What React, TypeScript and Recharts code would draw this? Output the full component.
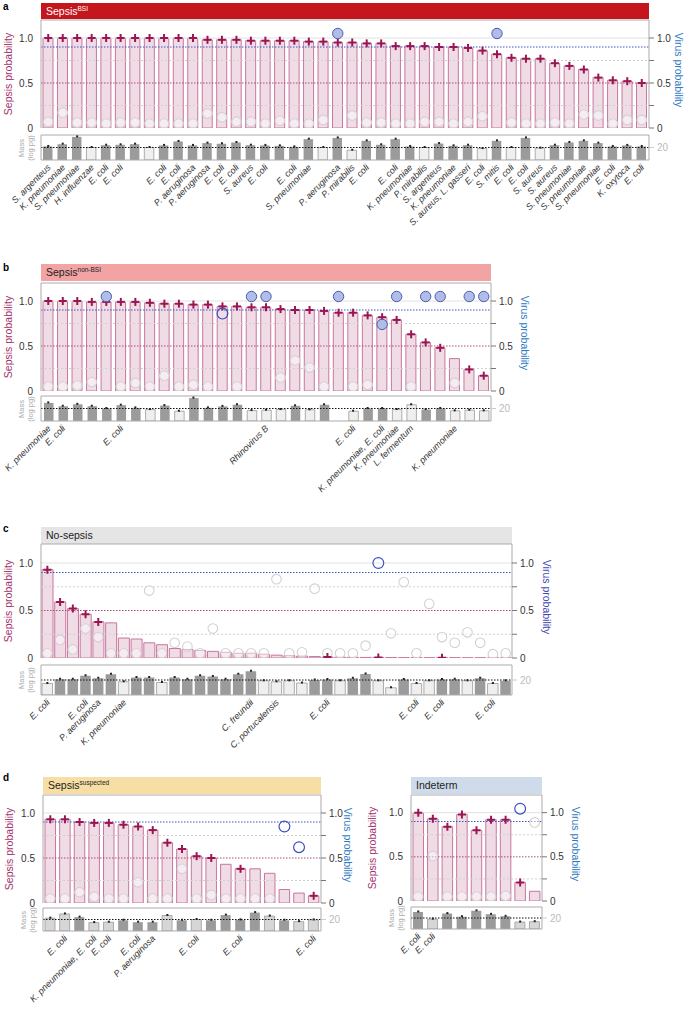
import React from "react";
import { ComposedChart, Bar, Scatter, XAxis, YAxis, ReferenceLine, Cell } from "recharts";

const FONT = '"Liberation Sans", Arial, Helvetica, sans-serif';
const BOX = "#ababab";
const PINK = "#c8769f";
const PINK_FILL = "#f0dce5";
const CRIMSON = "#a3336c";

// a: Sepsis BSI
const aLabels = ["S. argenteus", "K. pneumoniae", "S. pneumoniae", "H. influenzae", "E. coli", "E. coli", "", "", "E. coli", "E. coli", "P. aeruginosa", "P. aeruginosa", "E. coli", "E. coli", "S. aureus", "E. coli", "", "E. coli", "S. pneumoniae", "", "P. aeruginosa", "P. mirabilis", "E. coli", "", "E. coli", "K. pneumoniae", "P. mirabilis", "S. argenteus", "K. pneumoniae", "S. aureus, L. gasseri", "E. coli", "S. mitis", "E. coli", "E. coli", "S. aureus", "S. aureus", "S. pneumoniae", "S. pneumoniae", "S. pneumoniae", "E. coli", "K. oxytoca", "E. coli"];
const aSepsis = [1, 1, 1, 1, 1, 1, 1, 1, 1, 1, 1, 0.98, 0.98, 0.98, 0.97, 0.97, 0.97, 0.97, 0.96, 0.96, 0.95, 0.95, 0.94, 0.94, 0.91, 0.91, 0.91, 0.9, 0.9, 0.89, 0.86, 0.82, 0.78, 0.77, 0.77, 0.72, 0.69, 0.65, 0.56, 0.53, 0.52, 0.5];
const aPlus = [1, 1, 1, 1, 1, 1, 1, 1, 1, 1, 1, 1, 1, 1, 1, 1, 1, 1, 1, 1, 1, 1, 1, 1, 1, 1, 1, 1, 1, 1, 1, 1, 1, 1, 1, 1, 1, 1, 1, 1, 1, 1];
const aVirus = [0.07, 0.17, 0.06, 0.06, 0.05, 0.06, 0.06, 0.05, 0.05, 0.05, 0.05, 0.16, 0.12, 0.07, 0.07, 0.05, 0.08, 0.05, 0.05, 0.09, 1.05, 0.14, 0.06, 0.06, 0.05, 0.05, 0.07, 0.07, 0.05, 0.07, 0.13, 1.05, 0.06, 0.05, 0.05, 0.06, 0.05, 0.15, 0.14, 0.05, 0.09, 0.09];
// 0 grey, 1 blue filled, 2 blue open, -1 none
const aKind = [0, 0, 0, 0, 0, 0, 0, 0, 0, 0, 0, 0, 0, 0, 0, 0, 0, 0, 0, 0, 1, 0, 0, 0, 0, 0, 0, 0, 0, 0, 0, 1, 0, 0, 0, 0, 0, 0, 0, 0, 0, 0];
const aMass = [20.5, 21.6, 25.1, 20, 21.1, 21.3, 21.6, 20, 21, 22.9, 21, 22.1, 21.8, 22.4, 21.1, 21, 20.8, 20.3, 24, 20, 24.6, 18.7, 23.2, 21.3, 24, 20.5, 20, 21.9, 20.8, 21.1, 19.5, 23.2, 20, 24.6, 19.7, 21.1, 22.4, 23.2, 22.1, 20.5, 21, 20.5];
const aDark = [1, 1, 1, 0, 1, 1, 1, 0, 1, 1, 1, 1, 1, 1, 1, 1, 1, 1, 1, 0, 1, 0, 1, 1, 1, 1, 0, 1, 1, 1, 0, 1, 0, 1, 0, 1, 1, 1, 1, 1, 1, 1];

// b: Sepsis non-BSI
const bLabels = ["K. pneumoniae", "E. coli", "", "", "", "E. coli", "", "", "", "", "", "", "", "", "", "Rhinovirus B", "", "", "", "", "", "E. coli", "", "K. pneumoniae, E. coli", "K. pneumoniae", "L. fermentum", "", "", "K. pneumoniae", "", ""];
const bSepsis = [1, 1, 1, 0.99, 0.99, 0.99, 0.99, 0.98, 0.97, 0.97, 0.96, 0.96, 0.94, 0.94, 0.93, 0.93, 0.91, 0.9, 0.9, 0.89, 0.87, 0.87, 0.84, 0.82, 0.79, 0.63, 0.54, 0.48, 0.36, 0.24, 0.17];
const bPlus = [1, 1, 1, 1, 1, 1, 1, 1, 1, 1, 1, 1, 1, 1, 1, 1, 1, 1, 1, 1, 1, 1, 1, 1, 1, 1, 1, 1, 0, 1, 1];
const bVirus = [0.05, 0.05, 0.06, 0.1, 1.05, 0.05, 0.09, 0.05, 0.17, 0.05, 0.07, 0.05, 0.86, 0.05, 1.05, 1.05, 0.15, 0.34, 0.26, 0.05, 1.05, 0.05, 0.07, 0.74, 1.05, 0.05, 1.05, 1.05, 0.09, 1.05, 1.05];
const bKind = [0, 0, 0, 0, 1, 0, 0, 0, 0, 0, 0, 0, 2, 0, 1, 1, 0, 0, 0, 0, 1, 0, 0, 1, 1, 0, 1, 1, 0, 1, 1];
const bMass = [22.7, 21.1, 22, 21.1, 20, 21.6, 20.3, 19.5, 21.4, 18.7, 25, 20.3, 21, 21.8, 19, 19.2, 19.5, 21.3, 19.4, 21.8, null, 18.7, 20, 20, 19.5, 21.8, 19.5, 20, 18.9, 19.2, 18.9];
const bDark = [1, 1, 1, 1, 1, 1, 1, 0, 1, 0, 1, 1, 1, 1, 0, 0, 0, 1, 0, 1, 1, 0, 1, 1, 0, 0, 1, 1, 0, 0, 0];

// c: No-sepsis
const cLabels = ["E. coli", "", "", "E. coli", "P. aeruginosa", "", "K. pneumoniae", "", "", "", "", "", "", "", "", "", "C. freundii", "", "C. portucalensis", "", "", "", "E. coli", "", "", "", "", "", "", "E. coli", "", "E. coli", "", "", "", "E. coli", ""];
const cSepsis = [0.93, 0.59, 0.52, 0.46, 0.38, 0.37, 0.21, 0.2, 0.16, 0.14, 0.1, 0.09, 0.08, 0.07, 0.06, 0.05, 0.05, 0.04, 0.03, 0.025, 0.02, 0.015, 0.01, 0.008, 0.007, 0.006, 0.005, 0.005, 0.004, 0.004, 0.003, 0.003, 0.003, 0.002, 0.002, 0.002, 0.001];
const cPlus = [1, 1, 1, 1, 1, 0, 0, 0, 0, 0, 0, 0, 0, 0, 0, 0, 0, 0, 0, 0, 0, 0, 1, 0, 0, 0, 1, 0, 0, 0, 0, 1, 0, 0, 0, 0, 0];
const cVirus = [0.05, 0.19, 0.09, 0.31, 0.22, 0.05, 0.05, 0.05, 0.71, 0.05, 0.16, 0.12, 0.05, 0.31, 0.05, 0.05, 0.05, 0.05, 0.83, 0.05, 0.06, 0.73, 0.05, 0.05, 0.05, 0.13, 1.0, 0.26, 0.8, 0.05, 0.57, 0.22, 0.16, 0.27, 0.16, 0.04, 0.05];
const cKind = [0, 0, 0, 0, 0, 0, 0, 0, 0, 0, 0, 0, 0, 0, 0, 0, 0, 0, 0, 0, 0, 0, 0, 0, 0, 0, 2, 0, 0, 0, 0, 0, 0, 0, 0, 0, 0];
const cMass = [18.6, 20.3, 20.3, 21.7, 20.7, 22.3, 19.3, 21, 21, 19, 21, 20.3, 21.7, 21.4, 20.3, 22.3, 23.5, 19.7, 19.3, 19.7, 18.8, 20, 20.2, 19.7, 20.7, 22.4, 19.7, 16.9, 20.2, 18.6, 19.7, 20.2, 20.3, 19.7, 20.7, 18.6, 19.7];
const cDark = [0, 1, 1, 1, 1, 1, 0, 1, 1, 0, 1, 1, 1, 1, 1, 1, 1, 0, 0, 0, 0, 1, 1, 0, 1, 1, 0, 0, 1, 0, 0, 1, 1, 0, 1, 0, 1];

// d: Sepsis suspected
const dLabels = ["", "E. coli", "", "K. pneumoniae, E. coli", "E. coli", "", "E. coli", "P. aeruginosa", "", "", "E. coli", "", "", "E. coli", "", "", "", "", "E. coli"];
const dSepsis = [0.93, 0.93, 0.9, 0.89, 0.89, 0.87, 0.85, 0.81, 0.67, 0.6, 0.52, 0.5, 0.43, 0.38, 0.38, 0.33, 0.15, 0.11, 0.08];
const dPlus = [1, 1, 1, 1, 1, 1, 1, 1, 1, 1, 1, 1, 0, 1, 0, 0, 0, 0, 1];
const dVirus = [0.05, 0.05, 0.12, 0.07, 0.05, 0.05, 0.23, 0.05, 0.05, 0.38, 0.05, 0.09, 0.05, 0.05, 0.05, 0.05, 0.85, 0.62, null];
const dKind = [0, 0, 0, 0, 0, 0, 0, 0, 0, 0, 0, 0, 0, 0, 0, 0, 2, 2, -1];
const dMass = [20.7, 22.9, 21.25, 18.4, 18.6, 19.6, 18.6, 18.6, 22.1, 19.6, 20, 19.6, 22.3, 19.8, 23.6, 21.8, 19.6, 18.9, 19.8];
const dDark = [0, 0, 1, 0, 0, 1, 1, 1, 0, 1, 0, 1, 1, 1, 1, 0, 1, 0, 0];

// d: Indeterm
const eLabels = ["E. coli", "E. coli", "", "", "", "", "", "", ""];
const eSepsis = [1, 0.93, 0.84, 0.98, 0.8, 0.92, 0.92, 0.21, 0.11];
const ePlus = [1, 1, 1, 1, 1, 1, 1, 1, 0];
const eVirus = [0.05, 0.51, 0.05, 0.05, 0.05, 0.05, 0.06, 1.045, 0.89];
const eKind = [0, 0, 0, 0, 0, 0, 0, 2, 0];
const eMass = [23.3, 19.4, 22.4, 20.7, 23.9, 22, 20.9, 17.8, 18];
const eDark = [1, 0, 1, 1, 1, 1, 1, 0, 0];

type PanelDef = {
  x0: number; x1: number; left: number; right: number;
  top: number; h: number; mTop: number; mH: number; labelH: number; barW: number;
  hTop: number; hH: number; hBg: string; hColor: string; title: string; sup?: string;
  sepsis: number[]; plus: number[]; virus: (number | null)[]; kind: number[];
  mass: (number | null)[]; dark: number[]; labels: string[];
  lightFill: string; virusColor: string; sepsisX: number; virusX: number;
  letter?: string; letterY?: number;
};

const fmt = (v: number) => (v === 1 ? "1.0" : v === 0.5 ? "0.5" : v === 0 ? "0" : "");

const ok = (p: any) => p.cx != null && p.cy != null && isFinite(p.cx) && isFinite(p.cy);

const PlusMark = (p: any) =>
  ok(p) ? (
    <g stroke="#9b1552" strokeWidth={2}>
      <line x1={p.cx - 4} x2={p.cx + 4} y1={p.cy} y2={p.cy} />
      <line x1={p.cx} x2={p.cx} y1={p.cy - 4} y2={p.cy + 4} />
    </g>
  ) : <g />;
const GreyCircle = (p: any) =>
  ok(p) ? <circle cx={p.cx} cy={p.cy} r={4.8} fill="rgba(255,255,255,0.45)" stroke="#d2d2d2" strokeWidth={1.1} /> : <g />;
const BlueFill = (p: any) =>
  ok(p) ? <circle cx={p.cx} cy={p.cy} r={5.2} fill="#b0bde6" stroke="#4a5bb4" strokeWidth={1} /> : <g />;
const BlueOpen = (p: any) =>
  ok(p) ? <circle cx={p.cx} cy={p.cy} r={5.4} fill="none" stroke="#3c4fbf" strokeWidth={1.2} /> : <g />;
const MassDot = (p: any) =>
  ok(p) ? <rect x={p.cx - 1} y={p.cy - 1.5} width={2} height={2} fill="#222" /> : <g />;

const LabelTick = ({ x, y, payload, labels }: any) => {
  const t = labels[payload.value];
  if (!t) return <g />;
  const ax = x + 3;
  const ay = y + 8;
  return (
    <text x={ax} y={ay} transform={`rotate(-45 ${ax} ${ay})`} textAnchor="end" fontSize={9} fontStyle="italic" fill="#333">
      {t}
    </text>
  );
};

function Panel({ p }: { p: PanelDef }) {
  const rows = p.sepsis.map((s, i) => ({
    i,
    sepsis: s,
    plus: p.plus[i] ? s : null,
    vGrey: p.kind[i] === 0 ? p.virus[i] : null,
    vFill: p.kind[i] === 1 ? p.virus[i] : null,
    vOpen: p.kind[i] === 2 ? p.virus[i] : null,
    mass: p.mass[i],
  }));
  const W = p.x1 - p.x0;
  const lw = p.left - p.x0;
  const rw = p.x1 - p.right;
  const PAD = 7;
  const mid = p.top + p.h / 2;
  return (
    <>
      {p.letter && (
        <div style={{ position: "absolute", left: 3, top: p.letterY, fontWeight: "bold", fontSize: 10 }}>{p.letter}</div>
      )}
      <div
        style={{
          position: "absolute", left: p.left, top: p.hTop, width: p.right - p.left, height: p.hH,
          background: p.hBg, color: p.hColor, fontSize: 10.5, lineHeight: `${p.hH}px`, paddingLeft: 5,
          boxSizing: "border-box", whiteSpace: "nowrap",
        }}
      >
        {p.title}
        {p.sup && <span style={{ fontSize: 6.5, position: "relative", top: -4 }}>{p.sup}</span>}
      </div>

      <div style={{ position: "absolute", left: p.x0, top: p.top - PAD }}>
        <ComposedChart width={W} height={p.h + 2 * PAD} data={rows} margin={{ top: PAD, right: 0, bottom: PAD, left: 0 }} barSize={p.barW}>
          <XAxis dataKey="i" type="category" allowDuplicatedCategory={false} height={0} tick={false} tickLine={false} axisLine={{ stroke: BOX }} />
          <YAxis yAxisId="l" width={lw} domain={[0, 1.2]} allowDataOverflow ticks={[0, 0.5, 1]} tickFormatter={fmt} tickLine={false} axisLine={{ stroke: BOX }} tick={{ fill: "#333", fontSize: 10 }} />
          <YAxis yAxisId="r" orientation="right" width={rw} domain={[0, 1.2]} allowDataOverflow ticks={[0, 0.25, 0.5, 0.75, 1]} tickFormatter={fmt} tickSize={5} tickMargin={3} tickLine={{ stroke: "#777" }} axisLine={{ stroke: BOX }} tick={{ fill: "#333", fontSize: 10 }} />
          <ReferenceLine yAxisId="l" y={1} stroke="#e2e2e2" />
          <Bar yAxisId="l" dataKey="sepsis" fill={PINK_FILL} stroke={PINK} strokeWidth={1} isAnimationActive={false} />
          <ReferenceLine yAxisId="l" y={0.75} stroke="#d0d0d0" strokeDasharray="2 2" />
          <ReferenceLine yAxisId="l" y={0.25} stroke="#d0d0d0" strokeDasharray="2 2" />
          <ReferenceLine yAxisId="l" y={0.5} stroke="#b04a7b" strokeDasharray="1.5 1.5" />
          <ReferenceLine yAxisId="l" y={0.9} stroke="#3f52c4" strokeDasharray="1.5 1.5" />
          <ReferenceLine yAxisId="l" y={1.2} stroke={BOX} />
          <Scatter yAxisId="l" dataKey="vGrey" shape={GreyCircle} isAnimationActive={false} />
          <Scatter yAxisId="l" dataKey="plus" shape={PlusMark} isAnimationActive={false} />
          <Scatter yAxisId="l" dataKey="vFill" shape={BlueFill} isAnimationActive={false} />
          <Scatter yAxisId="l" dataKey="vOpen" shape={BlueOpen} isAnimationActive={false} />
        </ComposedChart>
      </div>

      <div style={{ position: "absolute", left: p.x0, top: p.mTop - 1 }}>
        <ComposedChart width={W} height={p.mH + 1 + p.labelH} data={rows} margin={{ top: 1, right: 0, bottom: 0, left: 0 }} barSize={p.barW - 0.5}>
          <XAxis dataKey="i" type="category" allowDuplicatedCategory={false} height={p.labelH} interval={0} tickLine={false} tickSize={0} tickMargin={0} axisLine={{ stroke: BOX }} tick={(t: any) => <LabelTick {...t} labels={p.labels} />} />
          <YAxis yAxisId="l" width={lw} domain={[14, 26]} allowDataOverflow tick={false} tickLine={false} axisLine={{ stroke: BOX }} />
          <YAxis yAxisId="r" orientation="right" width={rw} domain={[14, 26]} allowDataOverflow ticks={[20]} tickSize={5} tickMargin={3} tickLine={{ stroke: "#ccc" }} axisLine={{ stroke: BOX }} tick={{ fill: "#bbb", fontSize: 10 }} />
          <ReferenceLine yAxisId="l" y={26} stroke={BOX} />
          <Bar yAxisId="l" dataKey="mass" isAnimationActive={false}>
            {rows.map((r, i) => (
              <Cell key={i} fill={p.dark[i] ? "#9b9b9b" : p.lightFill} stroke={p.dark[i] ? "none" : "#9a9a9a"} strokeWidth={0.8} />
            ))}
          </Bar>
          <ReferenceLine yAxisId="l" y={20} stroke="#111" strokeDasharray="1.5 1.5" />
          <Scatter yAxisId="l" dataKey="mass" shape={MassDot} isAnimationActive={false} />
        </ComposedChart>
      </div>

      <div style={{ position: "absolute", left: p.sepsisX, top: mid, transform: "translate(-50%, -50%) rotate(-90deg)", whiteSpace: "nowrap", fontSize: 10.5, color: CRIMSON }}>
        Sepsis probability
      </div>
      <div style={{ position: "absolute", left: p.virusX, top: mid - 4, transform: "translate(-50%, -50%) rotate(90deg)", whiteSpace: "nowrap", fontSize: 10.5, color: p.virusColor }}>
        Virus probability
      </div>
      <div style={{ position: "absolute", left: p.left - 15, top: p.mTop + p.mH / 2, transform: "translate(-50%, -50%) rotate(-90deg)", whiteSpace: "nowrap", fontSize: 7.5, lineHeight: "8.5px", color: "#aaa", textAlign: "center" }}>
        Mass
        <br />
        (log pg)
      </div>
    </>
  );
}

const panels: PanelDef[] = [
  {
    x0: 0, x1: 685, left: 41, right: 649, top: 20, h: 108, mTop: 135, mH: 25, labelH: 115, barW: 10,
    hTop: 3, hH: 16, hBg: "#c4161c", hColor: "#fff", title: "Sepsis", sup: "BSI",
    sepsis: aSepsis, plus: aPlus, virus: aVirus, kind: aKind, mass: aMass, dark: aDark, labels: aLabels,
    lightFill: "#efefef", virusColor: "#2f7bc2", sepsisX: 8, virusX: 679, letter: "a", letterY: 1,
  },
  {
    x0: 0, x1: 685, left: 41, right: 491, top: 283, h: 108, mTop: 396, mH: 25, labelH: 120, barW: 10,
    hTop: 264, hH: 17, hBg: "#f2a3a3", hColor: "#222", title: "Sepsis", sup: "non-BSI",
    sepsis: bSepsis, plus: bPlus, virus: bVirus, kind: bKind, mass: bMass, dark: bDark, labels: bLabels,
    lightFill: "#efefef", virusColor: "#2f7bc2", sepsisX: 8, virusX: 525, letter: "b", letterY: 262,
  },
  {
    x0: 0, x1: 685, left: 41, right: 512, top: 544, h: 114, mTop: 665, mH: 30, labelH: 95, barW: 11,
    hTop: 527, hH: 17, hBg: "#e5e5e6", hColor: "#222", title: "No-sepsis",
    sepsis: cSepsis, plus: cPlus, virus: cVirus, kind: cKind, mass: cMass, dark: cDark, labels: cLabels,
    lightFill: "#efefef", virusColor: "#4747b2", sepsisX: 8, virusX: 547, letter: "c", letterY: 523,
  },
  {
    x0: 0, x1: 366, left: 43, right: 321, top: 795, h: 108, mTop: 908, mH: 23, labelH: 90, barW: 10.5,
    hTop: 777, hH: 17, hBg: "#f6dea4", hColor: "#222", title: "Sepsis", sup: "suspected",
    sepsis: dSepsis, plus: dPlus, virus: dVirus, kind: dKind, mass: dMass, dark: dDark, labels: dLabels,
    lightFill: "#d6d6d6", virusColor: "#2f7bc2", sepsisX: 9, virusX: 348, letter: "d", letterY: 772,
  },
  {
    x0: 372, x1: 685, left: 411, right: 542, top: 795, h: 106, mTop: 907, mH: 22, labelH: 60, barW: 10.5,
    hTop: 777, hH: 17, hBg: "#cfdbea", hColor: "#222", title: "Indeterm",
    sepsis: eSepsis, plus: ePlus, virus: eVirus, kind: eKind, mass: eMass, dark: eDark, labels: eLabels,
    lightFill: "#d6d6d6", virusColor: "#2f7bc2", sepsisX: 372, virusX: 576,
  },
];

export default function App() {
  return (
    <div style={{ position: "absolute", left: 0, top: 0, width: 685, height: 1012, overflow: "hidden", background: "#fff", fontFamily: FONT }}>
      {panels.map((p, k) => (
        <Panel key={k} p={p} />
      ))}
    </div>
  );
}
